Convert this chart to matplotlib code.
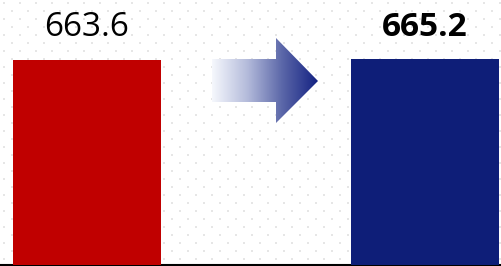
import numpy as np
import matplotlib
matplotlib.use("Agg")
import matplotlib.pyplot as plt
from matplotlib.patches import Polygon
from matplotlib.colors import LinearSegmentedColormap

# data
categories = ["before", "after"]
values = [663.6, 665.2]
labels = ["663.6", "665.2"]
colors = ["#c00000", "#0e1e78"]
weights = ["normal", "bold"]

W, H = 501, 266
fig = plt.figure(figsize=(W / 100, H / 100), dpi=100)

# background layer in pixel coords: dot pattern + gradient arrow
bg = fig.add_axes([0, 0, 1, 1])
bg.set_xlim(0, W)
bg.set_ylim(H, 0)
bg.axis("off")
dx, dy = [], []
for i, yy in enumerate(np.arange(3, H, 8)):
    off = 4 if i % 2 == 0 else 12
    for xx in np.arange(off, W, 16):
        dx.append(xx)
        dy.append(yy)
bg.scatter(dx, dy, s=1.2, marker="s", color="#e6e6e6", linewidths=0, zorder=1)

# gradient arrow
arrow_pts = [(212, 59), (276, 59), (276, 38), (318, 81), (276, 123), (276, 102), (212, 102)]
poly = Polygon(arrow_pts, closed=True, facecolor="none", edgecolor="none")
bg.add_patch(poly)
cmap = LinearSegmentedColormap.from_list("arr", ["#f6f8fd", "#b4bbdb", "#5a66a8", "#142283"])
grad = np.linspace(0, 1, 256).reshape(1, -1)
im = bg.imshow(grad, cmap=cmap, extent=(212, 318, 123, 38), aspect="auto", zorder=2,
               interpolation="bilinear")
im.set_clip_path(poly)

# main chart
ax = fig.add_axes([0, 1 / H, 1, 1 - 1 / H])
ax.patch.set_alpha(0)
x = np.arange(len(categories))
ax.bar(x, values, width=0.438, color=colors, zorder=3)
ax.set_xlim(-0.2574, 1.2249)
ax.set_ylim(0, 856)
for xi, lab, w in zip(x, labels, weights):
    ax.text(xi, 740, lab, ha="center", va="baseline", fontsize=24, fontweight=w,
            family="Open Sans", color="black")
for s in ["top", "left", "right"]:
    ax.spines[s].set_visible(False)
ax.spines["bottom"].set_linewidth(1.5)
ax.spines["bottom"].set_color("black")
ax.set_xticks([])
ax.set_yticks([])

fig.savefig("out.png", dpi=100)
